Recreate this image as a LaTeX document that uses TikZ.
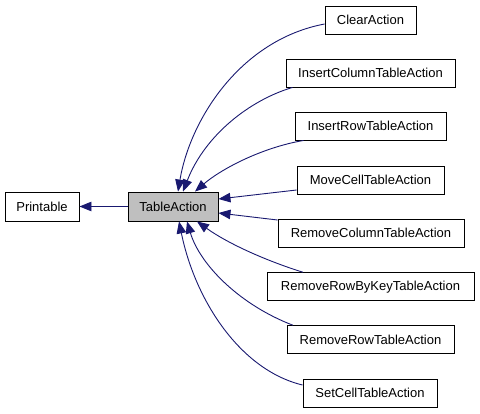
\documentclass[tikz,border=0pt]{standalone}
\usepackage{fontspec}
\setmainfont{Liberation Sans}
\usetikzlibrary{arrows.meta}
\definecolor{edgecol}{HTML}{191970}
\definecolor{hlfill}{HTML}{BFBFBF}
\tikzset{
  box/.style={draw=black, line width=0.9pt, fill=white, inner sep=0pt, minimum height=28pt,
    font=\fontsize{13}{15}\selectfont},
  edge/.style={draw=edgecol, line width=0.9pt, -{Triangle[length=12pt,width=9.5pt]}},
}
\begin{document}
\begin{tikzpicture}[x=1pt,y=-1pt]
\useasboundingbox (0,0) rectangle (480,413);
\node[box, minimum width=74pt, minimum height=29pt] (pr) at (42,206.5) {Printable};
\node[box, fill=hlfill, minimum width=90pt, minimum height=29pt] (ta) at (173,206.5) {TableAction};
\node[box, minimum width=91pt] (c1) at (370.5,20) {ClearAction};
\node[box, minimum width=169pt] (c2) at (370.5,73) {InsertColumnTableAction};
\node[box, minimum width=151pt] (c3) at (370.5,126) {InsertRowTableAction};
\node[box, minimum width=147pt] (c4) at (370.5,180) {MoveCellTableAction};
\node[box, minimum width=186pt] (c5) at (371,233) {RemoveColumnTableAction};
\node[box, minimum width=207pt] (c6) at (370.5,286.7) {RemoveRowByKeyTableAction};
\node[box, minimum width=167pt] (c7) at (370.5,339.7) {RemoveRowTableAction};
\node[box, minimum width=134pt] (c8) at (370,393) {SetCellTableAction};
% connectors
\draw[edge] (ta.west) -- (pr.east);
\draw[edge] ([yshift=-4pt]c1.west) .. controls (240,40) and (190,120) .. ([xshift=5pt]ta.north);
\draw[edge] ([xshift=-78pt]c2.south) .. controls (250,100) and (205,135) .. ([xshift=10pt]ta.north);
\draw[edge] ([xshift=-67pt]c3.south) .. controls (260,148) and (220,170) .. ([xshift=22pt]ta.north);
\draw[edge] ([yshift=-10pt]c4.west) -- ([yshift=7.5pt]ta.east);
\draw[edge] ([yshift=13pt]c5.west) -- ([yshift=-6.5pt]ta.east);
\draw[edge] ([xshift=-67.5pt]c6.north) .. controls (270,262) and (230,245) .. ([xshift=24pt]ta.south);
\draw[edge] ([xshift=-77.5pt]c7.north) .. controls (240,305) and (200,265) .. ([xshift=14pt]ta.south);
\draw[edge] ([yshift=8pt]c8.west) .. controls (240,370) and (195,300) .. ([xshift=6pt]ta.south);
\end{tikzpicture}
\end{document}
